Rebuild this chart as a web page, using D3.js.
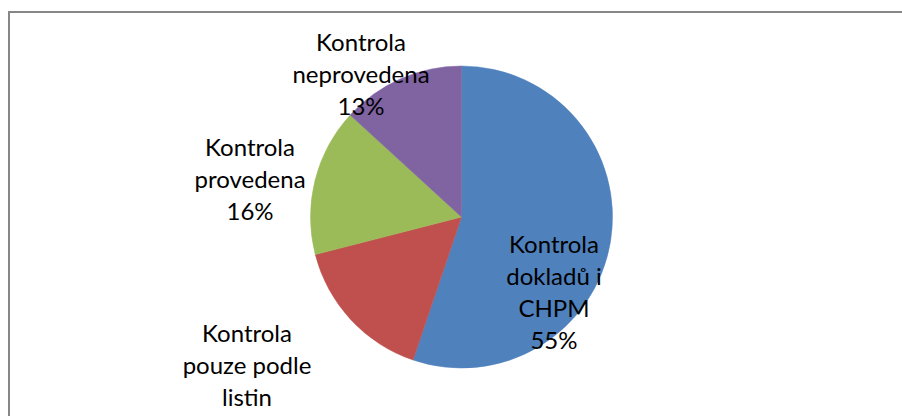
<!DOCTYPE html>
<html>
<head>
<meta charset="utf-8">
<script src="https://cdn.jsdelivr.net/npm/d3@7"></script>
<style>
    html, body { margin: 0; padding: 0; background: #fff; }
    svg { display: block; }
</style>
</head>
<body>
<div id="chart_div"></div>
<script>
// slice data (shares)
const categories = ["Kontrola dokladů i CHPM", "Kontrola pouze podle listin", "Kontrola provedena", "Kontrola neprovedena"];
const labelLines = [["Kontrola", "dokladů i", "CHPM"], ["Kontrola", "pouze podle", "listin"], ["Kontrola", "provedena"], ["Kontrola", "neprovedena"]];
const values = [55.2, 15.8, 15.8, 13.2];
const colors = ["#4f81bd", "#c0504d", "#9bbb59", "#8064a2"];

function show_pie(div_container) {
    const width = 902, height = 416;
    const cx = 461.5, cy = 217, radius = 151;
    const lineGap = 32;
    // where Excel put each data label, relative to the pie centre
    const labelSpots = [
        {dx: 92.5, dy: 36},
        {dx: -214.5, dy: 124.7},
        {dx: -211.5, dy: -61},
        {dx: -100.5, dy: -166.3}
    ];

    const svg = d3.select("#" + div_container)
        .append("svg")
        .attr("width", width)
        .attr("height", height);

    // chart area border (right and bottom edges fall outside the picture)
    svg.append("rect")
        .attr("x", 9)
        .attr("y", 12)
        .attr("width", 1000)
        .attr("height", 1000)
        .style("fill", "#fff")
        .style("stroke", "#878787")
        .style("stroke-width", 2);

    const total = d3.sum(values);
    const pie = d3.pie().sort(null).value(d => d)(values);
    const arc = d3.arc().innerRadius(0).outerRadius(radius);

    const g = svg.append("g")
        .attr("transform", `translate(${cx}, ${cy})`);

    g.selectAll("path")
        .data(pie)
        .join("path")
        .attr("d", arc)
        .style("fill", (d, i) => colors[i])
        .style("stroke", (d, i) => colors[i])
        .style("stroke-width", 0.5);

    const labels = g.selectAll("text.slice_label")
        .data(pie)
        .join("text")
        .attr("class", "slice_label")
        .attr("text-anchor", "middle")
        .style("font-family", "Lato, 'Open Sans', sans-serif")
        .style("font-size", "24px")
        .style("fill", "#000");

    labels.each(function (d, i) {
        const lines = labelLines[i].concat([Math.round(d.value / total * 100) + "%"]);
        const spot = labelSpots[i];
        d3.select(this).selectAll("tspan")
            .data(lines)
            .join("tspan")
            .attr("x", spot.dx)
            .attr("y", (t, k) => spot.dy + k * lineGap)
            .text(t => t);
    });
}

show_pie("chart_div");
</script>
</body>
</html>
